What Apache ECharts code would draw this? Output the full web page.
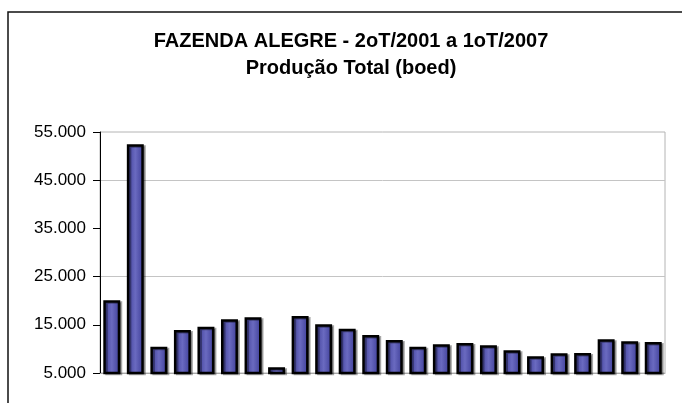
<!DOCTYPE html>
<html>
<head>
<meta charset="utf-8">
<script src="https://cdn.jsdelivr.net/npm/echarts@6/dist/echarts.min.js"></script>
<style>
  html, body { margin: 0; padding: 0; background: #fff; }
  #chart { width: 682px; height: 403px; }
</style>
</head>
<body>
<div id="chart"></div>
<script>
// trimestres 2oT/2001 .. 1oT/2007
const categories = [
  '2T01', '3T01', '4T01',
  '1T02', '2T02', '3T02', '4T02',
  '1T03', '2T03', '3T03', '4T03',
  '1T04', '2T04', '3T04', '4T04',
  '1T05', '2T05', '3T05', '4T05',
  '1T06', '2T06', '3T06', '4T06',
  '1T07'
];
const producao = [
  20100, 52450, 10450,
  13900, 14600, 16150, 16550,
  6200, 16800, 15100, 14200,
  12900, 11850, 10450, 10950,
  11200, 10750, 9700, 8450,
  9100, 9150, 12000, 11600,
  11450
];
const yTicks = [5000, 15000, 25000, 35000, 45000, 55000];

const chart = echarts.init(document.getElementById('chart'));

const fmt = v => String(v).replace(/\B(?=(\d{3})+(?!\d))/g, '.');

const option = {
  animation: false,
  title: {
    text: 'FAZENDA ALEGRE - 2oT/2001 a 1oT/2007\nProdução Total (boed)',
    left: 351,
    top: 28,
    textAlign: 'center',
    padding: 0,
    textStyle: {
      fontFamily: 'Liberation Sans',
      fontWeight: 'bold',
      fontSize: 20,
      lineHeight: 27,
      color: '#000'
    }
  },
  graphic: [{
    type: 'rect',
    shape: { x: 8, y: 12, width: 800, height: 500 },
    style: { fill: 'none', stroke: '#111', lineWidth: 1.5 },
    silent: true
  }],
  grid: {
    left: 100,
    right: 17,
    top: 132,
    bottom: 30,
    show: true,
    borderColor: '#b4b4b4',
    borderWidth: 1
  },
  xAxis: {
    type: 'category',
    data: categories,
    axisLine: { lineStyle: { color: '#a8a8a8', width: 1 } },
    axisTick: { show: false },
    axisLabel: { show: false }
  },
  yAxis: {
    type: 'value',
    min: 5000,
    max: 55000,
    interval: 5000,
    axisLine: { show: true, lineStyle: { color: '#000', width: 1 } },
    axisTick: {
      show: true,
      length: 7,
      customValues: yTicks,
      lineStyle: { color: '#000', width: 1 }
    },
    axisLabel: {
      customValues: yTicks,
      margin: 14,
      fontFamily: 'Liberation Sans',
      fontSize: 17,
      color: '#000',
      formatter: fmt
    },
    splitLine: {
      lineStyle: { color: ['#c4c4c4', 'transparent'], width: 1 }
    }
  },
  series: [{
    type: 'bar',
    data: producao,
    barCategoryGap: '28%',
    itemStyle: {
      color: new echarts.graphic.LinearGradient(0, 0, 1, 0, [
        { offset: 0, color: '#3c3c96' },
        { offset: 0.5, color: '#6a6ac0' },
        { offset: 1, color: '#3c3c96' }
      ]),
      borderColor: '#000',
      borderWidth: 2.5,
      shadowColor: 'rgba(0,0,0,0.35)',
      shadowOffsetX: 2,
      shadowOffsetY: 1
    }
  }]
};

chart.setOption(option);
</script>
</body>
</html>
